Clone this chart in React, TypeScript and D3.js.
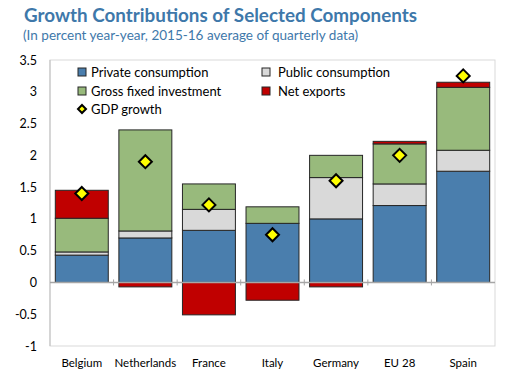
import React from "react";
import * as d3 from "d3";

const categories = ["Belgium", "Netherlands", "France", "Italy", "Germany", "EU 28", "Spain"];
const privateCons = [0.43, 0.7, 0.82, 0.93, 1.0, 1.21, 1.75];
const publicCons = [0.05, 0.11, 0.33, 0.0, 0.65, 0.34, 0.33];
const gfi = [0.53, 1.59, 0.4, 0.26, 0.35, 0.63, 0.99];
const netExports = [0.44, -0.07, -0.51, -0.28, -0.07, 0.04, 0.08];
const gdp = [1.4, 1.9, 1.22, 0.75, 1.6, 2.0, 3.25];
const yTicks = [3.5, 3, 2.5, 2, 1.5, 1, 0.5, 0, -0.5, -1];
const tickLabels = ["3.5", "3", "2.5", "2", "1.5", "1", "0.5", "0", "-0.5", "-1"];

const series = [
  { name: "Private consumption", values: privateCons, color: "#4A7EAD" },
  { name: "Public consumption", values: publicCons, color: "#D9D9D9" },
  { name: "Gross fixed investment", values: gfi, color: "#98BA7C" },
  { name: "Net exports", values: netExports, color: "#C00000" },
];

export default function App() {
  const W = 525, H = 380;
  const left = 50, right = 495, top = 60, bottom = 346;
  const x = d3.scaleBand().domain(categories).range([left, right]).paddingInner(0.167).paddingOuter(0.0835);
  const y = d3.scaleLinear().domain([-1, 3.5]).range([bottom, top]);
  const font = "Lato, 'Open Sans', sans-serif";

  const rects: any[] = [];
  categories.forEach((c, i) => {
    let pos = 0, neg = 0;
    series.forEach((s, j) => {
      const v = s.values[i];
      if (v === 0) return;
      let y0, y1;
      if (v > 0) { y0 = pos; y1 = pos + v; pos = y1; } else { y0 = neg + v; y1 = neg; neg = y0; }
      rects.push(
        <rect key={c + j} x={x(c)} width={x.bandwidth()} y={y(y1)} height={y(y0) - y(y1)}
          fill={s.color} stroke="#262626" strokeWidth={1} />
      );
    });
  });

  const diamond = (cx: number, cy: number, r: number) =>
    `M${cx},${cy - r}L${cx + r},${cy}L${cx},${cy + r}L${cx - r},${cy}Z`;

  const legend = [
    { s: series[0], x: 78, y: 72, tx: 91, len: 122 },
    { s: series[1], x: 262, y: 72, tx: 278, len: 118 },
    { s: series[2], x: 78, y: 91, tx: 91, len: 140 },
    { s: series[3], x: 262, y: 91, tx: 278, len: 70 },
  ];

  const step = x.step();
  const boundaries = d3.range(1, categories.length).map(i => left + i * step);

  return (
    <svg width={W} height={H} style={{ position: "absolute", left: 0, top: 0 }} fontFamily={font}>
      <rect width={W} height={H} fill="#fff" />
      <text x={24} y={22} fontSize={18.5} fontWeight="bold" fill="#3E78AA" textLength={393} lengthAdjust="spacingAndGlyphs">Growth Contributions of Selected Components</text>
      <text x={23} y={39.5} fontSize={13.3} fill="#3E78AA" textLength={335} lengthAdjust="spacingAndGlyphs">(In percent year-year, 2015-16 average of quarterly data)</text>
      <rect x={left} y={top} width={right - left} height={bottom - top} fill="none" stroke="#D9D9D9" strokeWidth={1} />
      <line x1={left} x2={left} y1={top} y2={bottom} stroke="#BFBFBF" />
      {yTicks.map((t, i) => (
        <text key={t} x={37} y={y(t) + 4.5} fontSize={12.5} textAnchor="end" fill="#000">{tickLabels[i]}</text>
      ))}
      {rects}
      <line x1={left} x2={right} y1={y(0)} y2={y(0)} stroke="#A6A6A6" strokeWidth={1.5} />
      {boundaries.map(b => (
        <line key={b} x1={b} x2={b} y1={y(0) - 3} y2={y(0) + 3} stroke="#A6A6A6" />
      ))}
      {gdp.map((g, i) => (
        <path key={i} d={diamond(x(categories[i])! + x.bandwidth() / 2, y(g), 6.5)} fill="#FFFF00" stroke="#000" strokeWidth={2} />
      ))}
      {categories.map(c => (
        <text key={c} x={x(c)! + x.bandwidth() / 2} y={367} fontSize={11.5} textAnchor="middle" fill="#000">{c}</text>
      ))}
      {legend.map(l => (
        <g key={l.s.name}>
          <rect x={l.x} y={l.y - 4} width={8} height={8} fill={l.s.color} stroke="#262626" strokeWidth={1} />
          <text x={l.tx - (l.tx === 278 ? 0 : 0)} y={l.y + 4.5} fontSize={13} fill="#000">{l.s.name}</text>
        </g>
      ))}
      <path d={diamond(82, 109, 4)} fill="#FFFF00" stroke="#000" strokeWidth={2} />
      <text x={91} y={113.5} fontSize={13} fill="#000">GDP growth</text>
    </svg>
  );
}
